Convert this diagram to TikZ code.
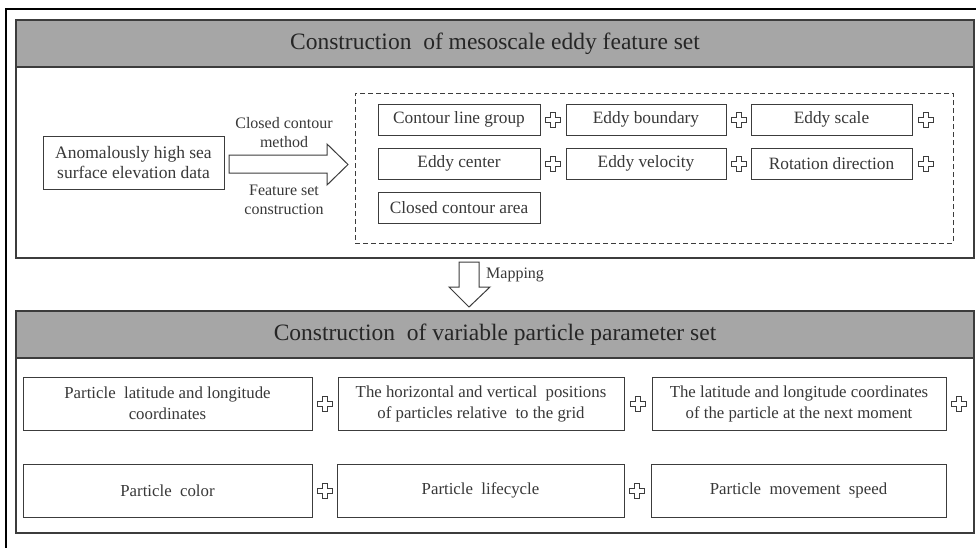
\documentclass[tikz,border=0pt]{standalone}
\usepackage{fontspec}
\setmainfont{Liberation Serif}
\definecolor{lin}{HTML}{3C3C3C}
\definecolor{txt}{HTML}{383838}
\definecolor{hdr}{HTML}{A6A6A6}
\begin{document}
\begin{tikzpicture}[x=1pt,y=-1pt,
  panelbox/.style={draw=lin, line width=1.1pt, fill=white, rectangle, inner sep=0pt},
  header/.style={draw=lin, line width=1.1pt, fill=hdr, rectangle, inner sep=0pt, text=black!85, font=\fontsize{23.5}{28}\selectfont},
  fbox/.style={draw=lin, line width=1pt, fill=white, rectangle, inner sep=0pt, text=txt, font=\fontsize{17.3}{20}\selectfont, align=center},
  pbox/.style={draw=lin, line width=1pt, fill=white, rectangle, inner sep=0pt, text=txt, font=\fontsize{16.8}{21}\selectfont, align=center, minimum height=53pt},
  lbl/.style={text=txt, font=\fontsize{16}{19}\selectfont, align=center, inner sep=0pt},
  pluss/.pic={\draw[draw=lin, line width=0.8pt, fill=white]
     (-2.6,-7.5) -- (2.6,-7.5) -- (2.6,-2.6) -- (7.5,-2.6) -- (7.5,2.6) -- (2.6,2.6) -- (2.6,7.5) -- (-2.6,7.5) -- (-2.6,2.6) -- (-7.5,2.6) -- (-7.5,-2.6) -- (-2.6,-2.6) -- cycle;},
  bigarrow/.style={draw=lin, line width=1pt, fill=white}
]
\useasboundingbox (0,0) rectangle (976,547);
\clip (0,0) rectangle (976,547);
\fill[white] (0,0) rectangle (976,547);
% outer frame
\draw[black, line width=1.2pt] (6,560) -- (6,9) -- (990,9);

% top panel
\node[panelbox, minimum width=958pt, minimum height=238pt] (p1) at (495,139) {};
\node[header, minimum width=958pt, minimum height=47pt] (h1) at (495,43.5) {Construction\ \ of\ mesoscale eddy feature set};

% bottom panel
\node[panelbox, minimum width=958pt, minimum height=222pt] (p2) at (495,422) {};
\node[header, minimum width=958pt, minimum height=47pt] (h2) at (495,334.5) {Construction\ \ of\ variable\ particle\ parameter\ set};

% input box
\node[fbox, minimum width=181pt, minimum height=53pt, font=\fontsize{17.5}{20}\selectfont] (in) at (133.5,162.5) {Anomalously high sea\\surface elevation data};

% big arrow
\draw[bigarrow] (229,155) -- (327,155) -- (327,144) -- (348,164.5) -- (327,185) -- (327,173) -- (229,173) -- cycle;
\node[lbl] (l1) at (284,132.5) {Closed contour\\method};
\node[lbl] (l2) at (284,199.5) {Feature set\\construction};

% dashed box
\node[draw=lin, line width=1pt, dashed, dash pattern=on 5pt off 3pt, rectangle, minimum width=598pt, minimum height=150pt, inner sep=0pt] (dash) at (654,168) {};

% feature boxes
\node[fbox, minimum width=162pt, minimum height=31pt] (c1) at (459,119.5) {Contour line group};
\node[fbox, minimum width=160pt, minimum height=31pt] (c2) at (646,119.5) {Eddy boundary};
\node[fbox, minimum width=161pt, minimum height=31pt] (c3) at (831.5,119.5) {Eddy scale};
\node[fbox, minimum width=162pt, minimum height=31pt] (d1) at (459,163.5) {Eddy center};
\node[fbox, minimum width=160pt, minimum height=31pt] (d2) at (646,163.5) {Eddy velocity};
\node[fbox, minimum width=161pt, minimum height=31pt] (d3) at (831.5,163.5) {Rotation direction};
\node[fbox, minimum width=162pt, minimum height=31pt] (e1) at (459,207.5) {Closed contour area};
\pic at (553,119.5) {pluss};
\pic at (739,119.5) {pluss};
\pic at (926,119.5) {pluss};
\pic at (553,163.5) {pluss};
\pic at (739,163.5) {pluss};
\pic at (926,163.5) {pluss};

% mapping arrow
\draw[bigarrow] (459,262) -- (479,262) -- (479,287) -- (490,287) -- (469,307) -- (449,287) -- (459,287) -- cycle;
\node[lbl, anchor=west] (map) at (486,275) {Mapping};

% particle boxes
\node[pbox, minimum width=289pt] (q1) at (167.5,403.5) {Particle\ \ latitude and longitude\\coordinates};
\node[pbox, minimum width=286pt] (q2) at (481,403.5) {The horizontal and vertical\ \ positions\\of particles relative\ \ to the grid};
\node[pbox, minimum width=294pt] (q3) at (799,403.5) {The latitude and longitude coordinates\\of the particle at the next moment};
\node[pbox, minimum width=289pt] (r1) at (167.5,490.5) {Particle\ \ color};
\node[pbox, minimum width=287pt] (r2) at (480.5,490.5) {Particle\ \ lifecycle};
\node[pbox, minimum width=295pt] (r3) at (798.5,490.5) {Particle\ \ movement\ \ speed};
\pic at (325,403.5) {pluss};
\pic at (638,403.5) {pluss};
\pic at (959,403.5) {pluss};
\pic at (325,490.5) {pluss};
\pic at (637,490.5) {pluss};
\end{tikzpicture}
\end{document}
